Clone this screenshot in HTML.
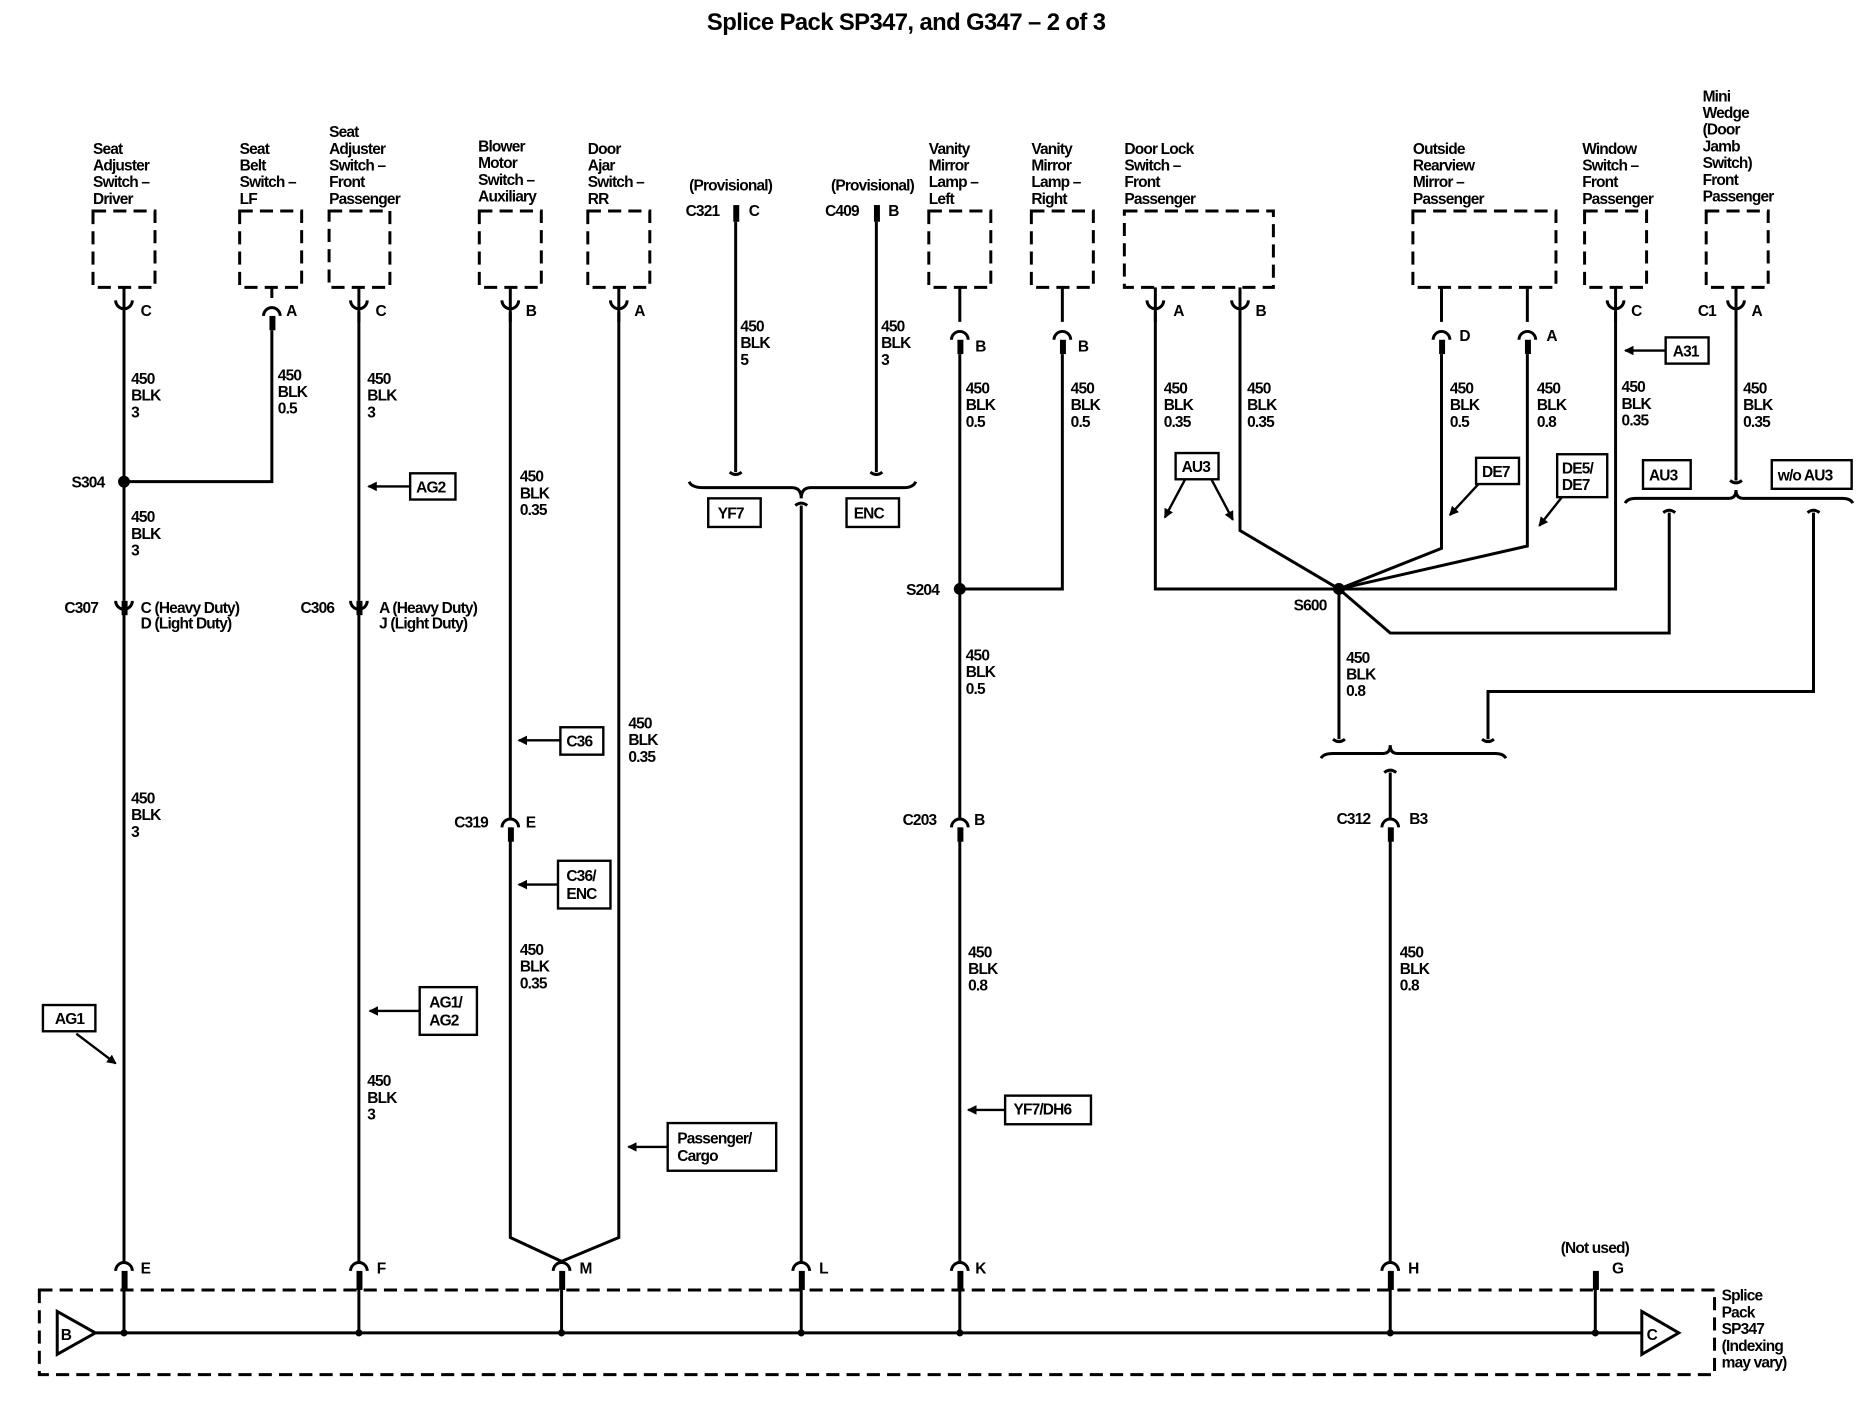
<!DOCTYPE html>
<html><head><meta charset="utf-8"><style>
html,body{margin:0;padding:0;background:#fff;width:1860px;height:1408px;overflow:hidden}
svg{display:block}
text{font-family:"Liberation Sans",Arial,sans-serif;font-size:13px;font-weight:bold;letter-spacing:-0.7px;fill:#000}
.w{stroke:#000;stroke-width:2.5;fill:none}
.d{stroke:#000;stroke-width:2.5;fill:none;stroke-dasharray:11,6}
.b{stroke:#000;stroke-width:2;fill:#fff}
.p{fill:#000}
</style></head><body>
<svg width="1860" height="1408" viewBox="0 0 1560 1181" preserveAspectRatio="none" xmlns="http://www.w3.org/2000/svg">
<defs><marker id="ah" markerWidth="8" markerHeight="8" refX="7" refY="4" orient="auto" markerUnits="userSpaceOnUse"><path d="M0,0 L8,4 L0,8 z" fill="#000"/></marker></defs>
<text x="760" y="25" text-anchor="middle" style="font-size:20px;letter-spacing:-0.5px">Splice Pack SP347, and G347 – 2 of 3</text>

<!-- dashed component boxes -->
<rect class="d" x="78" y="177" width="52" height="64"/>
<rect class="d" x="201" y="177" width="52" height="64"/>
<rect class="d" x="276" y="177" width="51" height="64"/>
<rect class="d" x="402" y="177" width="52" height="64"/>
<rect class="d" x="493" y="177" width="52" height="64"/>
<rect class="d" x="779" y="177" width="52" height="64"/>
<rect class="d" x="865" y="177" width="52" height="64"/>
<rect class="d" x="943" y="177" width="125" height="64"/>
<rect class="d" x="1185" y="177" width="120" height="64"/>
<rect class="d" x="1329" y="177" width="52" height="64"/>
<rect class="d" x="1431" y="177" width="52" height="64"/>

<!-- component labels -->
<text x="78" y="129">Seat</text><text x="78" y="143">Adjuster</text><text x="78" y="157">Switch –</text><text x="78" y="171">Driver</text>
<text x="201" y="129">Seat</text><text x="201" y="143">Belt</text><text x="201" y="157">Switch –</text><text x="201" y="171">LF</text>
<text x="276" y="115">Seat</text><text x="276" y="129">Adjuster</text><text x="276" y="143">Switch –</text><text x="276" y="157">Front</text><text x="276" y="171">Passenger</text>
<text x="401" y="127">Blower</text><text x="401" y="141">Motor</text><text x="401" y="155">Switch –</text><text x="401" y="169">Auxiliary</text>
<text x="493" y="129">Door</text><text x="493" y="143">Ajar</text><text x="493" y="157">Switch –</text><text x="493" y="171">RR</text>
<text x="578" y="160">(Provisional)</text><text x="575" y="181">C321</text><text x="628" y="181">C</text>
<text x="697" y="160">(Provisional)</text><text x="692" y="181">C409</text><text x="745" y="181">B</text>
<text x="779" y="129">Vanity</text><text x="779" y="143">Mirror</text><text x="779" y="157">Lamp –</text><text x="779" y="171">Left</text>
<text x="865" y="129">Vanity</text><text x="865" y="143">Mirror</text><text x="865" y="157">Lamp –</text><text x="865" y="171">Right</text>
<text x="943" y="129">Door Lock</text><text x="943" y="143">Switch –</text><text x="943" y="157">Front</text><text x="943" y="171">Passenger</text>
<text x="1185" y="129">Outside</text><text x="1185" y="143">Rearview</text><text x="1185" y="157">Mirror –</text><text x="1185" y="171">Passenger</text>
<text x="1327" y="129">Window</text><text x="1327" y="143">Switch –</text><text x="1327" y="157">Front</text><text x="1327" y="171">Passenger</text>
<text x="1428" y="85">Mini</text><text x="1428" y="99">Wedge</text><text x="1428" y="113">(Door</text><text x="1428" y="127">Jamb</text><text x="1428" y="141">Switch)</text><text x="1428" y="155">Front</text><text x="1428" y="169">Passenger</text>

<!-- top cups (U) -->
<g class="w">
<path d="M104 241V270M97 252A7 7 0 0 0 111 252"/>
<path d="M301 241V270M294 252A7 7 0 0 0 308 252"/>
<path d="M428 241V270M421 252A7 7 0 0 0 435 252"/>
<path d="M519 241V270M512 252A7 7 0 0 0 526 252"/>
<path d="M969 241V270M962 252A7 7 0 0 0 976 252"/>
<path d="M1040 241V270M1033 252A7 7 0 0 0 1047 252"/>
<path d="M1355 241V270M1348 252A7 7 0 0 0 1362 252"/>
<path d="M1456 241V270M1449 252A7 7 0 0 0 1463 252"/>
<!-- caps (∩) under boxes -->
<path d="M228 241V250M221 265A7 7 0 0 1 235 265"/>
<path d="M805 241V270M798 285A7 7 0 0 1 812 285"/>
<path d="M891 241V270M884 285A7 7 0 0 1 898 285"/>
<path d="M1209 241V270M1202 285A7 7 0 0 1 1216 285"/>
<path d="M1281 241V270M1274 285A7 7 0 0 1 1288 285"/>
</g>
<g class="p">
<rect x="226" y="265" width="5" height="12"/>
<rect x="803" y="285" width="5" height="12"/>
<rect x="889" y="285" width="5" height="12"/>
<rect x="1207" y="285" width="5" height="12"/>
<rect x="1279" y="285" width="5" height="12"/>
<rect x="615" y="172" width="5" height="14"/>
<rect x="733" y="172" width="5" height="14"/>
</g>
<text x="118" y="265">C</text><text x="240" y="265">A</text><text x="315" y="265">C</text><text x="441" y="265">B</text><text x="532" y="265">A</text>
<text x="818" y="295">B</text><text x="904" y="295">B</text><text x="984" y="265">A</text><text x="1053" y="265">B</text>
<text x="1224" y="286">D</text><text x="1297" y="286">A</text><text x="1368" y="265">C</text><text x="1424" y="265">C1</text><text x="1469" y="265">A</text>

<!-- wires -->
<g class="w">
<path d="M104 262V1058"/>
<path d="M228 277V404H104"/>
<path d="M301 262V1058"/>
<path d="M428 262V1038L471 1058"/>
<path d="M519 262V1038L471 1058"/>
<path d="M617 186V396"/><path d="M735 186V396"/>
<path d="M578 404Q580 409 590 409H664Q672 409 672 418Q672 409 680 409H758Q766 409 768 404"/>
<path d="M672 424V1058"/>
<path d="M805 297V1058"/>
<path d="M891 297V494H805"/>
<path d="M969 262V494H1123"/>
<path d="M1040 262V445L1123 494"/>
<path d="M1209 297V460L1123 494"/>
<path d="M1281 297V458L1123 494"/>
<path d="M1355 262V494H1123"/>
<path d="M1456 262V403"/>
<path d="M1363 422Q1365 418 1372 418H1450Q1456 418 1456 411Q1456 418 1462 418H1545Q1552 418 1554 422"/>
<path d="M1400 430V531H1166L1123 494"/>
<path d="M1521 430V580H1248V620"/>
<path d="M1123 494V620"/>
<path d="M1108 636Q1110 632 1118 632H1160Q1166 632 1166 625Q1166 632 1172 632H1254Q1261 632 1263 636"/>
<path d="M1166 648V1058"/>
<!-- small hooks -->
<path d="M612 396Q617 400 622 396M730 396Q735 400 740 396M667 424Q672 420 677 424M1451 403Q1456 407 1461 403"/>
<path d="M1395 430Q1400 426 1405 430M1516 430Q1521 426 1526 430M1118 620Q1123 624 1128 620M1243 620Q1248 624 1253 620M1161 648Q1166 644 1171 648"/>
</g>
<circle cx="104" cy="404" r="5"/><circle cx="805" cy="494" r="5"/><circle cx="1123" cy="494" r="5"/>
<text x="60" y="409">S304</text><text x="760" y="499">S204</text><text x="1085" y="512">S600</text>

<!-- inline connectors -->
<g class="w" style="fill:#fff">
<path d="M97 504A7 7 0 0 0 111 504"/>
<path d="M294 504A7 7 0 0 0 308 504"/>
<path d="M421 694A7 7 0 0 1 435 694"/>
<path d="M798 694A7 7 0 0 1 812 694"/>
<path d="M1159 694A7 7 0 0 1 1173 694"/>
</g>
<g class="p"><rect x="102" y="504" width="5" height="12"/><rect x="299" y="504" width="5" height="12"/>
<rect x="426" y="694" width="5" height="12"/><rect x="803" y="694" width="5" height="12"/><rect x="1164" y="694" width="5" height="12"/></g>
<text x="54" y="514">C307</text><text x="118" y="514">C (Heavy Duty)</text><text x="118" y="527">D (Light Duty)</text>
<text x="252" y="514">C306</text><text x="318" y="514">A (Heavy Duty)</text><text x="318" y="527">J (Light Duty)</text>
<text x="381" y="694">C319</text><text x="441" y="694">E</text>
<text x="757" y="692">C203</text><text x="817" y="692">B</text>
<text x="1121" y="691">C312</text><text x="1182" y="691">B3</text>

<!-- wire labels -->
<g>
<text x="110" y="322">450</text><text x="110" y="336">BLK</text><text x="110" y="350">3</text>
<text x="233" y="319">450</text><text x="233" y="333">BLK</text><text x="233" y="347">0.5</text>
<text x="308" y="322">450</text><text x="308" y="336">BLK</text><text x="308" y="350">3</text>
<text x="110" y="438">450</text><text x="110" y="452">BLK</text><text x="110" y="466">3</text>
<text x="110" y="674">450</text><text x="110" y="688">BLK</text><text x="110" y="702">3</text>
<text x="308" y="911">450</text><text x="308" y="925">BLK</text><text x="308" y="939">3</text>
<text x="436" y="404">450</text><text x="436" y="418">BLK</text><text x="436" y="432">0.35</text>
<text x="436" y="801">450</text><text x="436" y="815">BLK</text><text x="436" y="829">0.35</text>
<text x="527" y="611">450</text><text x="527" y="625">BLK</text><text x="527" y="639">0.35</text>
<text x="621" y="278">450</text><text x="621" y="292">BLK</text><text x="621" y="306">5</text>
<text x="739" y="278">450</text><text x="739" y="292">BLK</text><text x="739" y="306">3</text>
<text x="810" y="330">450</text><text x="810" y="344">BLK</text><text x="810" y="358">0.5</text>
<text x="898" y="330">450</text><text x="898" y="344">BLK</text><text x="898" y="358">0.5</text>
<text x="810" y="554">450</text><text x="810" y="568">BLK</text><text x="810" y="582">0.5</text>
<text x="812" y="803">450</text><text x="812" y="817">BLK</text><text x="812" y="831">0.8</text>
<text x="976" y="330">450</text><text x="976" y="344">BLK</text><text x="976" y="358">0.35</text>
<text x="1046" y="330">450</text><text x="1046" y="344">BLK</text><text x="1046" y="358">0.35</text>
<text x="1216" y="330">450</text><text x="1216" y="344">BLK</text><text x="1216" y="358">0.5</text>
<text x="1289" y="330">450</text><text x="1289" y="344">BLK</text><text x="1289" y="358">0.8</text>
<text x="1360" y="329">450</text><text x="1360" y="343">BLK</text><text x="1360" y="357">0.35</text>
<text x="1462" y="330">450</text><text x="1462" y="344">BLK</text><text x="1462" y="358">0.35</text>
<text x="1129" y="556">450</text><text x="1129" y="570">BLK</text><text x="1129" y="584">0.8</text>
<text x="1174" y="803">450</text><text x="1174" y="817">BLK</text><text x="1174" y="831">0.8</text>
</g>

<!-- option boxes and arrows -->
<g class="b">
<rect x="36" y="843" width="44" height="22"/>
<rect x="344" y="397" width="38" height="22"/>
<rect x="352" y="828" width="48" height="40"/>
<rect x="470" y="610" width="36" height="23"/>
<rect x="468" y="722" width="44" height="40"/>
<rect x="560" y="942" width="91" height="40"/>
<rect x="594" y="418" width="44" height="24"/>
<rect x="710" y="418" width="44" height="24"/>
<rect x="843" y="919" width="72" height="24"/>
<rect x="986" y="380" width="36" height="22"/>
<rect x="1238" y="384" width="36" height="22"/>
<rect x="1306" y="381" width="42" height="36"/>
<rect x="1397" y="283" width="36" height="22"/>
<rect x="1378" y="386" width="40" height="24"/>
<rect x="1486" y="386" width="67" height="24"/>
</g>
<text x="46" y="859">AG1</text><text x="349" y="413">AG2</text><text x="360" y="845">AG1/</text><text x="360" y="860">AG2</text>
<text x="475" y="626">C36</text><text x="475" y="739">C36/</text><text x="475" y="754">ENC</text>
<text x="568" y="959">Passenger/</text><text x="568" y="974">Cargo</text>
<text x="602" y="435">YF7</text><text x="716" y="435">ENC</text><text x="850" y="935">YF7/DH6</text>
<text x="991" y="396">AU3</text><text x="1243" y="400">DE7</text><text x="1310" y="397">DE5/</text><text x="1310" y="411">DE7</text>
<text x="1403" y="299">A31</text><text x="1383" y="403">AU3</text><text x="1491" y="403">w/o AU3</text>
<g class="w" style="stroke-width:2">
<path d="M64 867L97 892" marker-end="url(#ah)"/>
<path d="M344 408H309" marker-end="url(#ah)"/>
<path d="M352 848H310" marker-end="url(#ah)"/>
<path d="M470 621H435" marker-end="url(#ah)"/>
<path d="M468 742H435" marker-end="url(#ah)"/>
<path d="M560 962H527" marker-end="url(#ah)"/>
<path d="M843 931H812" marker-end="url(#ah)"/>
<path d="M994 402L977 434" marker-end="url(#ah)"/>
<path d="M1016 402L1034 436" marker-end="url(#ah)"/>
<path d="M1240 406L1216 432" marker-end="url(#ah)"/>
<path d="M1310 417L1291 441" marker-end="url(#ah)"/>
<path d="M1397 294H1363" marker-end="url(#ah)"/>
</g>

<!-- bottom connectors -->
<g class="w" style="fill:#fff">
<path d="M97 1066A7 7 0 0 1 111 1066"/>
<path d="M294 1066A7 7 0 0 1 308 1066"/>
<path d="M464 1066A7 7 0 0 1 478 1066"/>
<path d="M665 1066A7 7 0 0 1 679 1066"/>
<path d="M798 1066A7 7 0 0 1 812 1066"/>
<path d="M1159 1066A7 7 0 0 1 1173 1066"/>
</g>
<g class="p">
<rect x="102" y="1066" width="5" height="16"/><rect x="299" y="1066" width="5" height="16"/><rect x="469" y="1066" width="5" height="16"/>
<rect x="670" y="1066" width="5" height="16"/><rect x="803" y="1066" width="5" height="16"/><rect x="1164" y="1066" width="5" height="16"/>
<rect x="1336" y="1066" width="5" height="16"/>
</g>
<text x="118" y="1068">E</text><text x="316" y="1068">F</text><text x="486" y="1068">M</text><text x="687" y="1068">L</text>
<text x="818" y="1068">K</text><text x="1181" y="1068">H</text><text x="1309" y="1051">(Not used)</text><text x="1352" y="1068">G</text>

<rect class="d" x="33" y="1082" width="1405" height="71"/>
<g class="w">
<path d="M80 1118H1377"/>
<path d="M104 1082V1118M301 1082V1118M471 1082V1118M672 1082V1118M805 1082V1118M1166 1082V1118M1338 1082V1118"/>
<path d="M48 1100L80 1118L48 1136Z"/><path d="M1377 1100L1408 1118L1377 1136Z"/>
</g>
<g class="p"><circle cx="104" cy="1118" r="3"/><circle cx="301" cy="1118" r="3"/><circle cx="471" cy="1118" r="3"/><circle cx="672" cy="1118" r="3"/><circle cx="805" cy="1118" r="3"/><circle cx="1166" cy="1118" r="3"/><circle cx="1338" cy="1118" r="3"/></g>
<text x="51" y="1124">B</text><text x="1381" y="1124">C</text>
<text x="1444" y="1091">Splice</text><text x="1444" y="1105">Pack</text><text x="1444" y="1119">SP347</text><text x="1444" y="1133">(Indexing</text><text x="1444" y="1147">may vary)</text>
</svg>
</body></html>
